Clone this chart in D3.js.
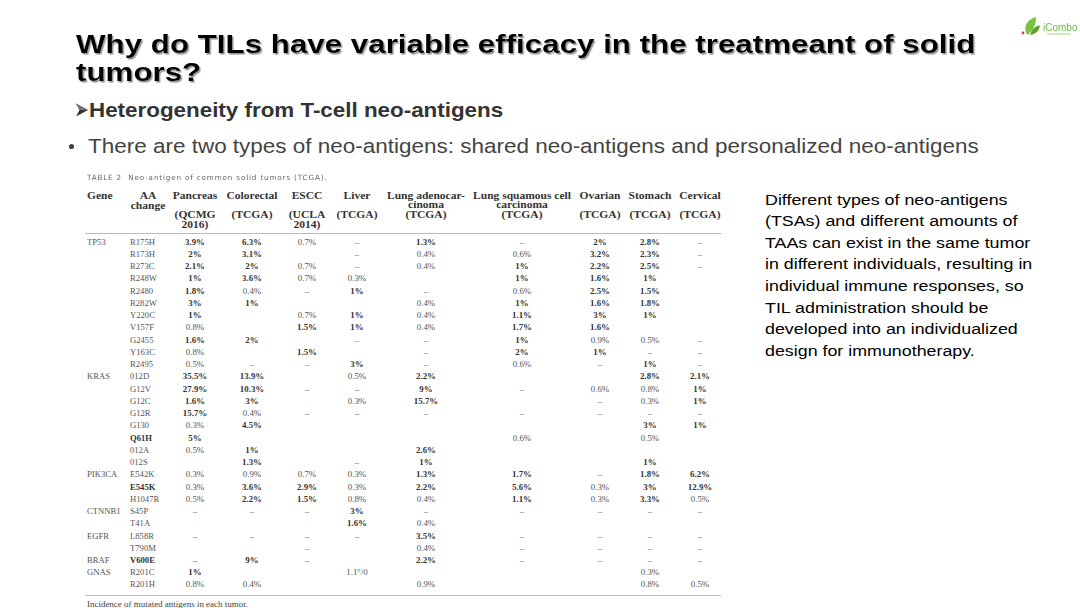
<!DOCTYPE html>
<html><head><meta charset="utf-8">
<script src="https://cdn.jsdelivr.net/npm/d3@7"></script>
<style>
html,body{margin:0;padding:0;background:#fff;}
svg{display:block;}
</style></head>
<body>
<script>
// ---------- DATA ----------
const titleLines = ["Why do TILs have variable efficacy in the treatmeant of solid", "tumors?"];
const subHeading = "Heterogeneity from T-cell neo-antigens";
const bulletText = "There are two types of neo-antigens: shared neo-antigens and personalized neo-antigens";
const sideNote = [
  "Different types of neo-antigens",
  "(TSAs) and different amounts of",
  "TAAs can exist in the same tumor",
  "in different individuals, resulting in",
  "individual immune responses, so",
  "TIL administration should be",
  "developed into an individualized",
  "design for immunotherapy."
];
const tableCaption = "TABLE 2  Neo-antigen of common solid tumors (TCGA).";
const tableFootnote = "Incidence of mutated antigens in each tumor.";

const tumorNames = ["Pancreas","Colorectal","ESCC","Liver","Lung adenocar-|cinoma","Lung squamous cell|carcinoma","Ovarian","Stomach","Cervical"];
const tumorSources = ["(QCMG|2016)","(TCGA)","(UCLA|2014)","(TCGA)","(TCGA)","(TCGA)","(TCGA)","(TCGA)","(TCGA)"];

const genes = ["TP53","","","","","","","","","","","KRAS","","","","","","","","PIK3CA","","","CTNNB1","","EGFR","","BRAF","GNAS",""];
const aaChanges = ["R175H","R173H","R273C","R248W","R2480","R282W","Y220C","V157F","G2455","Y163C","R2495",
  "012D","G12V","G12C","G12R","G130","Q61H","012A","012S",
  "E542K","E545K","H1047R","S45P","T41A","L858R","T790M","V600E","R201C","R201H"];
const boldAA = ["Q61H","E545K","V600E"];

const pancreas   = ["3.9%","2%","2.1%","1%","1.8%","3%","1%","0.8%","1.6%","0.8%","0.5%","35.5%","27.9%","1.6%","15.7%","0.3%","5%","0.5%","","0.3%","0.3%","0.5%","–","","–","","–","1%","0.8%"];
const colorectal = ["6.3%","3.1%","2%","3.6%","0.4%","1%","","","2%","","–","13.9%","10.3%","3%","0.4%","4.5%","","1%","1.3%","0.9%","3.6%","2.2%","–","","–","","9%","","0.4%"];
const escc       = ["0.7%","","0.7%","0.7%","–","","0.7%","1.5%","","1.5%","–","","–","","–","","","","","0.7%","2.9%","1.5%","–","","–","–","–","",""];
const liver      = ["–","–","–","0.3%","1%","","1%","1%","–","","3%","0.5%","–","0.3%","–","","","","–","0.3%","0.3%","0.8%","3%","1.6%","–","","","1.1°/0",""];
const lungAd     = ["1.3%","0.4%","0.4%","","–","0.4%","0.4%","0.4%","–","–","–","2.2%","9%","15.7%","–","","","2.6%","1%","1.3%","2.2%","0.4%","–","0.4%","3.5%","0.4%","2.2%","","0.9%"];
const lungSq     = ["–","0.6%","1%","1%","0.6%","1%","1.1%","1.7%","1%","2%","0.6%","","–","","–","","0.6%","","","1.7%","5.6%","1.1%","–","","–","–","–","",""];
const ovarian    = ["2%","3.2%","2.2%","1.6%","2.5%","1.6%","3%","1.6%","0.9%","1%","–","","0.6%","–","–","","","","","–","0.3%","0.3%","–","","–","–","–","",""];
const stomach    = ["2.8%","2.3%","2.5%","1%","1.5%","1.8%","1%","","0.5%","–","1%","2.8%","0.8%","0.3%","–","3%","0.5%","","1%","1.8%","3%","3.3%","–","","–","–","–","0.3%","0.8%"];
const cervical   = ["–","–","–","","","","","","–","–","–","2.1%","1%","1%","–","1%","","","","6.2%","12.9%","0.5%","–","","–","–","–","","0.5%"];
const seriesValues = [pancreas, colorectal, escc, liver, lungAd, lungSq, ovarian, stomach, cervical];

// ---------- LAYOUT ----------
const W = 1080, H = 608;
const svg = d3.select("body").append("svg").attr("width", W).attr("height", H);
svg.append("rect").attr("width", W).attr("height", H).attr("fill", "#fff");

const defs = svg.append("defs");
defs.append("filter").attr("id", "shadow").attr("x", "-5%").attr("y", "-20%").attr("width", "110%").attr("height", "150%")
  .append("feDropShadow").attr("dx", 1.4).attr("dy", 1.6).attr("stdDeviation", 0.6)
  .attr("flood-color", "#8a8a8a").attr("flood-opacity", 0.9);

const SANS = "Arial, 'Liberation Sans', Helvetica, sans-serif";
const SERIF = "'Liberation Serif', 'Times New Roman', 'DejaVu Serif', serif";

// place text at (x,y) with horizontal stretch sx
function place(sel, x, y, sx) {
  return sel.attr("x", 0).attr("y", 0).attr("transform", `translate(${x},${y}) scale(${sx},1)`);
}

// Title
const title = svg.append("g").attr("filter", "url(#shadow)");
titleLines.forEach((t, i) => {
  title.append("text").text(t).call(place, 76, 53 + i * 28, 1.205)
    .attr("font-family", SANS).attr("font-weight", "bold").attr("font-size", 26).attr("fill", "#000");
});

// Sub heading (arrow bullet drawn as a marker shape)
svg.append("path").attr("d", "M76,103.5 L88,110 L76,116.5 L79.5,110 Z").attr("fill", "#333");
svg.append("path").attr("d", "M76,103.5 L88,110 L79.5,110 Z").attr("fill", "#777");
svg.append("text").text(subHeading).call(place, 89, 117, 1.12)
  .attr("font-family", SANS).attr("font-weight", "bold").attr("font-size", 20).attr("fill", "#333");

// Bullet
svg.append("circle").attr("cx", 71.5).attr("cy", 146.5).attr("r", 2.6).attr("fill", "#444");
svg.append("text").text(bulletText).call(place, 88, 153, 1.153)
  .attr("font-family", SANS).attr("font-size", 19.5).attr("fill", "#444");

// Side note
svg.append("g").selectAll("text").data(sideNote).join("text").text(d => d)
  .each(function(d, i) { d3.select(this).call(place, 765, 204.5 + i * 21.6, 1.19); })
  .attr("font-family", SANS).attr("font-size", 15).attr("fill", "#000");

// Logo
const logo = svg.append("g");
logo.append("path").attr("d", "M1027,35 C1023,27 1026,20 1036,17 C1036,25 1033,31 1027,35 Z").attr("fill", "#7cc242");
logo.append("path").attr("d", "M1030,35 C1032,29 1035,26 1040,25.5 C1039,31 1036,34 1030,35 Z").attr("fill", "#5aa02c");
logo.append("circle").attr("cx", 1023).attr("cy", 33).attr("r", 1.4).attr("fill", "#e53935");
logo.append("text").attr("x", 1043).attr("y", 31).text("iCombo")
  .attr("font-family", SANS).attr("font-size", 10).attr("fill", "#6abf3c");
logo.append("rect").attr("x", 1047).attr("y", 33).attr("width", 24).attr("height", 2).attr("fill", "#d3eac4");

// ---------- TABLE ----------
const tbl = svg.append("g");
tbl.append("text").attr("x", 87).attr("y", 180).text(tableCaption)
  .attr("font-family", "'DejaVu Sans', sans-serif").attr("font-size", 7.2).attr("letter-spacing", 0.85)
  .attr("fill", "#666").style("white-space", "pre");

const colX = d3.scaleOrdinal().domain(d3.range(tumorNames.length))
  .range([195, 252, 307, 357, 426, 522, 600, 650, 700]);
const rowY = d3.scaleBand().domain(d3.range(aaChanges.length)).range([236, 591]);

const SX = 1.2;
const headStyle = sel => sel.attr("font-family", SERIF).attr("font-weight", "bold")
  .attr("font-size", 9.6).attr("fill", "#333").attr("text-anchor", "middle");

// Gene / AA header
tbl.append("text").text("Gene").call(place, 87, 199, SX).call(headStyle).attr("text-anchor", "start");
tbl.append("text").text("AA").call(place, 148, 199, SX).call(headStyle);
tbl.append("text").text("change").call(place, 148, 208.5, SX).call(headStyle);

tumorNames.forEach((n, i) => {
  n.split("|").forEach((line, j) => {
    tbl.append("text").text(line).call(place, colX(i), 199 + j * 9, SX).call(headStyle);
  });
  tumorSources[i].split("|").forEach((line, j) => {
    tbl.append("text").text(line).call(place, colX(i), 217.5 + j * 10, SX).call(headStyle);
  });
});

tbl.append("line").attr("x1", 85).attr("x2", 721).attr("y1", 233.5).attr("y2", 233.5)
  .attr("stroke", "#bbb").attr("stroke-width", 1);
tbl.append("line").attr("x1", 85).attr("x2", 721).attr("y1", 595.5).attr("y2", 595.5)
  .attr("stroke", "#bbb").attr("stroke-width", 1);

const cy = i => rowY(i) + rowY.bandwidth() / 2 + 2.6;
const isBig = d => d.endsWith("%") && parseFloat(d) >= 1;

tbl.append("g").selectAll("text").data(genes).join("text").text(d => d)
  .each(function(d, i) { d3.select(this).call(place, 87, cy(i), SX); })
  .attr("font-family", SERIF).attr("font-size", 7.2).attr("fill", "#555");

tbl.append("g").selectAll("text").data(aaChanges).join("text").text(d => d)
  .each(function(d, i) { d3.select(this).call(place, 130, cy(i), SX); })
  .attr("font-family", SERIF).attr("font-size", 7.2)
  .attr("font-weight", d => boldAA.includes(d) ? "bold" : "normal")
  .attr("fill", d => boldAA.includes(d) ? "#333" : "#555");

seriesValues.forEach((vals, ci) => {
  tbl.append("g").selectAll("text").data(vals).join("text").text(d => d)
    .each(function(d, i) { d3.select(this).call(place, colX(ci), cy(i), SX); })
    .attr("text-anchor", "middle")
    .attr("font-family", SERIF).attr("font-size", 7.4)
    .attr("font-weight", d => isBig(d) ? "bold" : "normal")
    .attr("fill", d => isBig(d) ? "#333" : "#555");
});

tbl.append("text").text(tableFootnote).call(place, 87, 606.5, 1.15)
  .attr("font-family", SERIF).attr("font-size", 7.8).attr("fill", "#444");
</script>
</body></html>
